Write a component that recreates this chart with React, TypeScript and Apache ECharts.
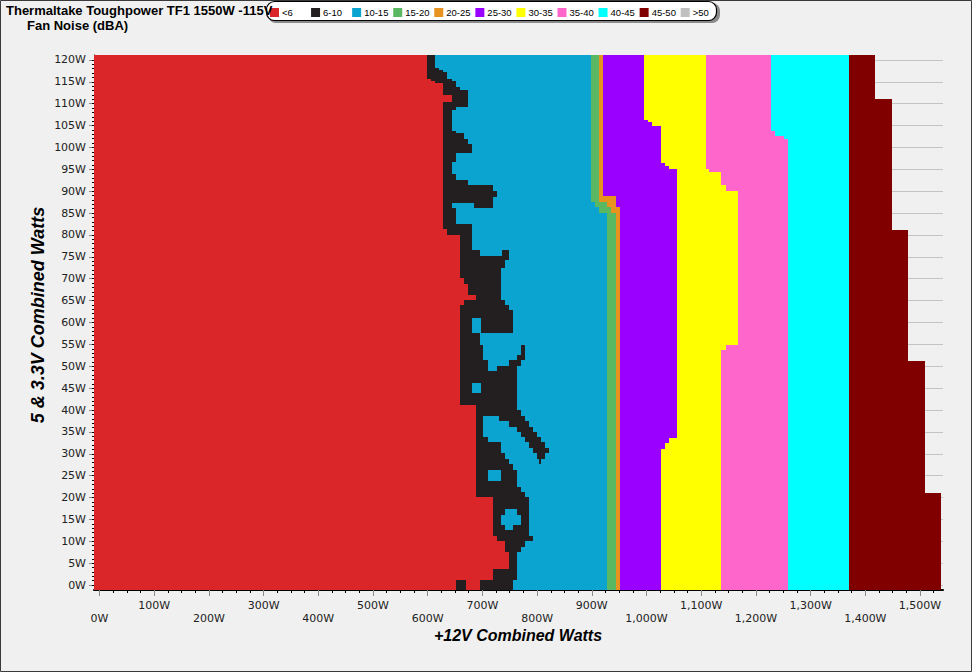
import React, { useEffect, useRef } from 'react';
import * as echarts from 'echarts';

// ---------- categories ----------
const CATEGORY_LABELS = ['<6', '6-10', '10-15', '15-20', '20-25', '25-30', '30-35', '35-40', '40-45', '45-50', '>50'];
const CATEGORY_COLORS = ['#da2529', '#231f20', '#0ba3d0', '#5bb862', '#e8931f', '#9900ff', '#ffff00', '#ff66cc', '#00ffff', '#800000', '#c0c0c0'];

// ---------- axes ----------
const X_MIN = -10;
const X_MAX = 1542;
const Y_MIN = -1.14;
const Y_MAX = 121.14;
const X_LABEL_VALUES = [0, 100, 200, 300, 400, 500, 600, 700, 800, 900, 1000, 1100, 1200, 1300, 1400, 1500];
const X_MINOR_TICKS = Array.from({ length: 62 }, (_, i) => i * 25);
const Y_LABEL_VALUES = [0, 5, 10, 15, 20, 25, 30, 35, 40, 45, 50, 55, 60, 65, 70, 75, 80, 85, 90, 95, 100, 105, 110, 115, 120];
const Y_MINOR_TICKS = Array.from({ length: 121 }, (_, i) => i);

// ---------- left region (red / black / blue), per row band ----------
// [yLow, yHigh, x1, cat1, x2, cat2, ...]  red from X_MIN to x1, then cat1 to x2, ...
const LEFT_BANDS: number[][] = [
  [118.2, 121.14, 598, 1, 613, 2],
  [117.7, 118.2, 598, 1, 620, 2],
  [117.3, 117.7, 598, 1, 628, 2],
  [115.7, 117.3, 598, 1, 635, 2],
  [115.2, 115.7, 606, 1, 644, 2],
  [114.7, 115.2, 613, 1, 651, 2],
  [113.8, 114.7, 628, 1, 651, 2],
  [113.1, 113.8, 628, 1, 659, 2],
  [112.0, 113.1, 628, 1, 673, 2],
  [110.4, 112.0, 644, 1, 673, 2],
  [109.3, 110.4, 628, 1, 673, 2],
  [108.6, 109.3, 628, 1, 651, 2],
  [103.8, 108.6, 628, 1, 644, 2],
  [103.4, 103.8, 628, 1, 651, 2],
  [101.9, 103.4, 628, 1, 666, 2],
  [100.8, 101.9, 628, 1, 673, 2],
  [98.7, 100.8, 628, 1, 681, 2],
  [96.7, 98.7, 628, 1, 651, 2],
  [93.9, 96.7, 628, 1, 644, 2],
  [92.6, 93.9, 628, 1, 651, 2],
  [91.4, 92.6, 628, 1, 673, 2],
  [90.1, 91.4, 628, 1, 719, 2],
  [88.7, 90.1, 628, 1, 726, 2],
  [87.3, 88.7, 628, 1, 719, 2],
  [86.2, 87.3, 628, 1, 644, 2, 684, 1, 719, 2],
  [82.5, 86.2, 628, 1, 651, 2],
  [81.4, 82.5, 628, 1, 681, 2],
  [80.0, 81.4, 635, 1, 681, 2],
  [76.6, 80.0, 659, 1, 681, 2],
  [75.2, 76.6, 659, 1, 695, 2, 736, 1, 748, 2],
  [74.3, 75.2, 659, 1, 748, 2],
  [72.5, 74.3, 659, 1, 741, 2],
  [70.2, 72.5, 659, 1, 734, 2],
  [68.8, 70.2, 666, 1, 734, 2],
  [66.3, 68.8, 673, 1, 734, 2],
  [65.1, 66.3, 688, 1, 734, 2],
  [64.0, 65.1, 666, 1, 741, 2],
  [62.9, 64.0, 659, 1, 748, 2],
  [61.0, 62.9, 659, 1, 756, 2],
  [57.5, 61.0, 659, 1, 681, 2, 697, 1, 756, 2],
  [54.9, 57.5, 659, 1, 695, 2],
  [52.6, 54.9, 659, 1, 702, 2, 770, 1, 777, 2],
  [51.4, 52.6, 659, 1, 702, 2, 763, 1, 777, 2],
  [50.1, 51.4, 659, 1, 711, 2, 748, 1, 770, 2],
  [48.9, 50.1, 659, 1, 711, 2, 726, 1, 763, 2],
  [46.2, 48.9, 659, 1, 763, 2],
  [43.8, 46.2, 659, 1, 681, 2, 697, 1, 763, 2],
  [41.2, 43.8, 659, 1, 763, 2],
  [40.0, 41.2, 688, 1, 763, 2],
  [38.6, 40.0, 688, 1, 770, 2],
  [37.5, 38.6, 688, 1, 702, 2, 730, 1, 777, 2],
  [36.2, 37.5, 688, 1, 702, 2, 748, 1, 785, 2],
  [35.0, 36.2, 688, 1, 702, 2, 763, 1, 792, 2],
  [33.8, 35.0, 688, 1, 702, 2, 770, 1, 800, 2],
  [32.7, 33.8, 688, 1, 711, 2, 777, 1, 807, 2],
  [31.3, 32.7, 688, 1, 734, 2, 785, 1, 814, 2],
  [30.1, 31.3, 688, 1, 734, 2, 792, 1, 822, 2],
  [28.7, 30.1, 688, 1, 741, 2, 800, 1, 814, 2],
  [27.6, 28.7, 688, 1, 748, 2, 803, 1, 808, 2],
  [26.3, 27.6, 688, 1, 756, 2],
  [23.8, 26.3, 688, 1, 711, 2, 734, 1, 763, 2],
  [22.5, 23.8, 688, 1, 763, 2],
  [21.3, 22.5, 688, 1, 770, 2],
  [20.1, 21.3, 688, 1, 777, 2],
  [17.3, 20.1, 719, 1, 785, 2],
  [16.1, 17.3, 719, 1, 741, 2, 763, 1, 785, 2],
  [13.8, 16.1, 719, 1, 734, 2, 770, 1, 785, 2],
  [12.6, 13.8, 719, 1, 741, 2, 756, 1, 785, 2],
  [11.2, 12.6, 719, 1, 785, 2],
  [10.1, 11.2, 726, 1, 792, 2],
  [8.8, 10.1, 741, 1, 777, 2],
  [7.5, 8.8, 741, 1, 770, 2],
  [3.6, 7.5, 748, 1, 763, 2],
  [1.1, 3.6, 719, 1, 763, 2],
  [-1.14, 1.1, 651, 1, 670, 0, 695, 1, 756, 2],
];

// ---------- right edges of each band (step functions of y): [yLow, yHigh, x] ----------
const BLUE_END = [[87.5, 121.14, 898], [86.4, 87.5, 906], [85.0, 86.4, 913], [-1.14, 85.0, 927]];
const GREEN_END = [[87.5, 121.14, 913], [86.4, 87.5, 927], [85.0, 86.4, 935], [-1.14, 85.0, 944]];
const ORANGE_END = [[88.9, 121.14, 920], [86.4, 88.9, 944], [-1.14, 86.4, 951]];
const PURPLE_END = [[106.3, 121.14, 995], [105.8, 106.3, 1002], [104.9, 105.8, 1010], [96.5, 104.9, 1026], [95.8, 96.5, 1034], [95.1, 95.8, 1041], [33.7, 95.1, 1056], [32.5, 33.7, 1041], [31.1, 32.5, 1034], [-1.14, 31.1, 1026]];
const YELLOW_END = [[95.1, 121.14, 1108], [94.4, 95.1, 1115], [91.4, 94.4, 1137], [90.1, 91.4, 1145], [54.9, 90.1, 1167], [53.7, 54.9, 1145], [-1.14, 53.7, 1137]];
const PINK_END = [[103.8, 121.14, 1227], [102.6, 103.8, 1235], [101.9, 102.6, 1251], [-1.14, 101.9, 1258]];
const CYAN_END = [[-1.14, 121.14, 1370]];
const MAROON_END = [[111.1, 121.14, 1417], [81.1, 111.1, 1448], [51.2, 81.1, 1478], [21.0, 51.2, 1509], [-1.14, 21.0, 1538]];

const EDGES = [BLUE_END, GREEN_END, ORANGE_END, PURPLE_END, YELLOW_END, PINK_END, CYAN_END, MAROON_END];

function stepAt(fn: number[][], y: number): number | null {
  for (const s of fn) if (y >= s[0] && y < s[1]) return s[2];
  return null;
}

function buildRects(): number[][] {
  const out: number[][] = [];
  // left region: red / black / blue (blue runs past, later bands paint over)
  for (const band of LEFT_BANDS) {
    const lo = band[0];
    const hi = band[1];
    let start = X_MIN;
    let cat = 0;
    for (let i = 2; i < band.length; i += 2) {
      const x = band[i];
      out.push([start, x, lo, hi, cat]);
      start = x;
      cat = band[i + 1];
    }
    out.push([start, 960, lo, hi, cat]);
  }
  // the other bands, between consecutive edges
  for (let k = 1; k < EDGES.length; k++) {
    const a = EDGES[k - 1];
    const b = EDGES[k];
    const ys = Array.from(new Set([...a, ...b].flatMap((s) => [s[0], s[1]]))).sort((p, q) => p - q);
    for (let i = 0; i < ys.length - 1; i++) {
      const m = (ys[i] + ys[i + 1]) / 2;
      const xa = stepAt(a, m);
      const xb = stepAt(b, m);
      if (xa != null && xb != null && xb > xa) out.push([xa, xb, ys[i], ys[i + 1], k + 2]);
    }
  }
  return out;
}

function fmtX(v: number): string {
  const s = v.toLocaleString('en-US') + 'W';
  return Math.round(v / 100) % 2 === 1 ? s : '\n' + s;
}

const LEGEND_X0 = 270;
const LEGEND_STEP = 41.07;

export default function App() {
  const ref = useRef<HTMLDivElement>(null);

  useEffect(() => {
    if (!ref.current) return;
    const chart = echarts.init(ref.current, null, { renderer: 'svg' });
    const rects = buildRects();

    const legendItems: any[] = [];
    CATEGORY_LABELS.forEach((label, i) => {
      const x = LEGEND_X0 + i * LEGEND_STEP;
      legendItems.push({
        type: 'rect',
        shape: { x, y: 8, width: 9, height: 9 },
        style: { fill: CATEGORY_COLORS[i] },
        silent: true,
      });
      legendItems.push({
        type: 'text',
        x: x + 12,
        y: 12.8,
        style: {
          text: label,
          font: '9.5px "Liberation Sans", Arial, sans-serif',
          fill: '#000',
          textAlign: 'left',
          textVerticalAlign: 'middle',
          align: 'left',
          verticalAlign: 'middle',
        },
        silent: true,
      });
    });

    const option: any = {
      animation: false,
      backgroundColor: '#f0f0f0',
      grid: { left: 94, right: 29, top: 55, bottom: 82, containLabel: false },
      xAxis: [
        {
          type: 'value',
          min: X_MIN,
          max: X_MAX,
          position: 'bottom',
          axisLine: { show: true, onZero: false, lineStyle: { color: '#000', width: 2 } },
          axisTick: { show: true, customValues: X_MINOR_TICKS, length: 3, lineStyle: { color: '#000', width: 1 } },
          axisLabel: {
            show: true,
            customValues: X_LABEL_VALUES,
            formatter: fmtX,
            margin: 9,
            fontFamily: '"DejaVu Sans", Verdana, sans-serif',
            fontSize: 11,
            lineHeight: 13,
            color: '#222',
          },
          splitLine: { show: false },
        },
        {
          type: 'value',
          min: X_MIN,
          max: X_MAX,
          position: 'bottom',
          axisLine: { show: false, onZero: false },
          axisTick: { show: true, customValues: X_LABEL_VALUES, length: 6, lineStyle: { color: '#888', width: 1 } },
          axisLabel: { show: false },
          splitLine: { show: false },
        },
      ],
      yAxis: [
        {
          type: 'value',
          min: Y_MIN,
          max: Y_MAX,
          position: 'left',
          axisLine: { show: true, onZero: false, lineStyle: { color: '#000', width: 1 } },
          axisTick: { show: true, customValues: Y_LABEL_VALUES, length: 5, lineStyle: { color: '#888', width: 1 } },
          axisLabel: {
            show: true,
            customValues: Y_LABEL_VALUES,
            formatter: (v: number) => v + 'W',
            margin: 8,
            fontFamily: '"DejaVu Sans", Verdana, sans-serif',
            fontSize: 11,
            color: '#222',
          },
          splitLine: { show: true, lineStyle: { color: '#c4c4c4', width: 1 } },
        },
        {
          type: 'value',
          min: Y_MIN,
          max: Y_MAX,
          position: 'left',
          axisLine: { show: false, onZero: false },
          axisTick: { show: true, customValues: Y_MINOR_TICKS, length: 2, lineStyle: { color: '#000', width: 1 } },
          axisLabel: { show: false },
          splitLine: { show: false },
        },
      ],
      series: [
        {
          type: 'custom',
          xAxisIndex: 0,
          yAxisIndex: 0,
          silent: true,
          clip: true,
          encode: { x: [0, 1], y: [2, 3] },
          data: rects,
          renderItem: (params: any, api: any) => {
            const a = api.coord([api.value(0), api.value(3)]);
            const b = api.coord([api.value(1), api.value(2)]);
            const x0 = Math.round(a[0]);
            const y0 = Math.round(a[1]);
            const x1 = Math.round(b[0]);
            const y1 = Math.round(b[1]);
            if (x1 <= x0 || y1 <= y0) return null;
            return {
              type: 'rect',
              shape: { x: x0, y: y0, width: x1 - x0, height: y1 - y0 },
              style: { fill: CATEGORY_COLORS[api.value(4)] },
            };
          },
        },
      ],
      graphic: [
        {
          type: 'rect',
          shape: { x: 268, y: 3, width: 452, height: 20, r: 8 },
          style: { fill: '#8a8a8a' },
          silent: true,
        },
        {
          type: 'rect',
          shape: { x: 266.5, y: 1.5, width: 450, height: 19, r: 8 },
          style: { fill: '#fff', stroke: '#000', lineWidth: 1.2 },
          silent: true,
        },
        ...legendItems,
        {
          type: 'text',
          x: 6,
          y: 10.5,
          style: {
            text: 'Thermaltake Toughpower TF1 1550W -115V',
            font: 'bold 13px "Liberation Sans", Arial, sans-serif',
            fill: '#000',
            textAlign: 'left',
            textVerticalAlign: 'middle',
            align: 'left',
            verticalAlign: 'middle',
          },
          silent: true,
        },
        {
          type: 'text',
          x: 27,
          y: 25.5,
          style: {
            text: 'Fan Noise (dBA)',
            font: 'bold 13px "Liberation Sans", Arial, sans-serif',
            fill: '#000',
            textAlign: 'left',
            textVerticalAlign: 'middle',
            align: 'left',
            verticalAlign: 'middle',
          },
          silent: true,
        },
        {
          type: 'text',
          x: 37.5,
          y: 315,
          rotation: Math.PI / 2,
          style: {
            text: '5 & 3.3V Combined Watts',
            font: 'italic bold 18px "Liberation Sans", Arial, sans-serif',
            fill: '#000',
            textAlign: 'center',
            textVerticalAlign: 'middle',
            align: 'center',
            verticalAlign: 'middle',
          },
          silent: true,
        },
        {
          type: 'text',
          x: 518,
          y: 635,
          style: {
            text: '+12V Combined Watts',
            font: 'italic bold 16px "Liberation Sans", Arial, sans-serif',
            fill: '#000',
            textAlign: 'center',
            textVerticalAlign: 'middle',
            align: 'center',
            verticalAlign: 'middle',
          },
          silent: true,
        },
        {
          type: 'rect',
          shape: { x: 0.5, y: 0.5, width: 971, height: 671 },
          style: { fill: 'none', stroke: '#3a3a3a', lineWidth: 1 },
          silent: true,
        },
      ],
    };

    chart.setOption(option);
    return () => chart.dispose();
  }, []);

  return (
    <div
      ref={ref}
      style={{ position: 'absolute', left: 0, top: 0, width: 972, height: 672 }}
    />
  );
}
